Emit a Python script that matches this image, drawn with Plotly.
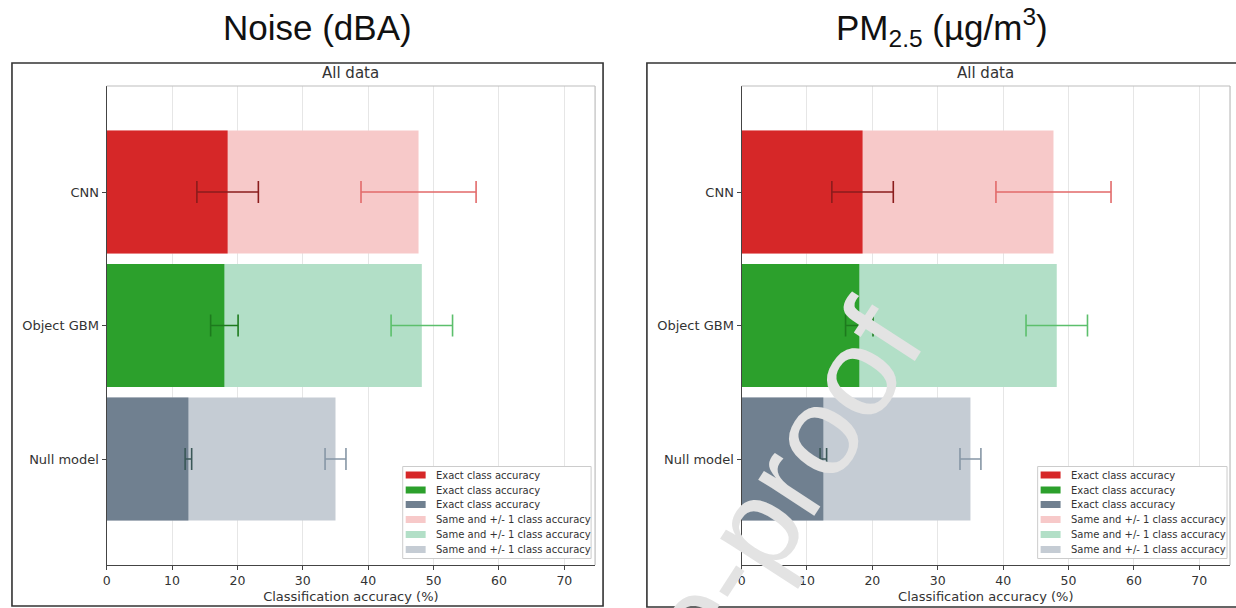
import plotly.graph_objects as go

# ---- data ----
models = ["CNN", "Object GBM", "Null model"]
exact_acc = [18.5, 18.0, 12.5]
exact_err = [4.7, 2.1, 0.5]
same_acc = [47.7, 48.2, 35.0]
same_err = [8.8, 4.7, 1.6]

panel_titles = ["Noise (dBA)", "PM<sub>2.5</sub> (µg/m<sup>3</sup>)"]
subplot_title = "All data"
x_title = "Classification accuracy (%)"
x_ticks = [0, 10, 20, 30, 40, 50, 60, 70]
exact_label = "Exact class accuracy"
same_label = "Same and +/- 1 class accuracy"
watermark = "Journal Pre-proof"

exact_colors = ["#d62728", "#2ca02c", "#708090"]
same_colors = ["#f7c9c9", "#b2dfc7", "#c5ccd4"]
exact_err_colors = ["#8b1c1c", "#1d7a1d", "#3b5858"]
same_err_colors = ["#e26a6a", "#5cbf6c", "#8797a6"]

W, H = 1236, 608
def px(x):
    return x / W
def py(y):
    return 1 - y / H

panels = [
    dict(x0=103, x1=593, frame=(8, 63, 601, 606), title_x=315, legend=(400, 589)),
    dict(x0=740, x1=1230, frame=(645, 63, 1245, 607), title_x=941, legend=(1037, 1227)),
]
plot_top, plot_bot = 86, 565
legend_top, legend_bot = 466.5, 558.5
legend_rows = [475, 490, 504.5, 519.5, 534.5, 549.5]

fig = go.Figure()
shapes = []
annotations = []
font_main = "DejaVu Sans"

for p, pan in enumerate(panels):
    sfx = "" if p == 0 else str(p + 1)
    xa, ya = "x" + sfx, "y" + sfx
    # same (+/-1) bars first (behind)
    for i, m in enumerate(models):
        fig.add_trace(go.Bar(
            x=[same_acc[i]], y=[m], orientation="h", xaxis=xa, yaxis=ya,
            marker=dict(color=same_colors[i], line=dict(width=0)),
            width=0.92, name=same_label, showlegend=False,
            error_x=dict(type="data", array=[same_err[i]], color=same_err_colors[i],
                         thickness=1.6, width=11),
        ))
    for i, m in enumerate(models):
        fig.add_trace(go.Bar(
            x=[exact_acc[i]], y=[m], orientation="h", xaxis=xa, yaxis=ya,
            marker=dict(color=exact_colors[i], line=dict(width=0)),
            width=0.92, name=exact_label, showlegend=False,
            error_x=dict(type="data", array=[exact_err[i]], color=exact_err_colors[i],
                         thickness=1.6, width=11),
        ))

    xdom = [px(pan["x0"]), px(pan["x1"])]
    ydom = [py(plot_bot), py(plot_top)]
    xaxis = dict(domain=xdom, range=[0, 74.7], tickvals=x_ticks, showgrid=True,
                 gridcolor="#e6e6e6", gridwidth=1, zeroline=False, showline=True,
                 linecolor="#444", linewidth=1.2, ticks="outside", ticklen=4,
                 tickcolor="#444", tickfont=dict(family=font_main, size=12.5, color="#333"),
                 title=dict(text=x_title, font=dict(family=font_main, size=13, color="#333"),
                            standoff=4),
                 anchor=ya, fixedrange=True)
    yaxis = dict(domain=ydom, type="category", categoryorder="array",
                 categoryarray=models[::-1], range=[-0.794, 2.794], showgrid=False,
                 zeroline=False, showline=True, linecolor="#444", linewidth=1.2,
                 ticks="outside", ticklen=4, tickcolor="#444",
                 tickfont=dict(family=font_main, size=13, color="#333"),
                 anchor=xa, fixedrange=True)
    fig.update_layout(**{"xaxis" + sfx: xaxis, "yaxis" + sfx: yaxis})

    # light top/right spines
    shapes.append(dict(type="line", xref="paper", yref="paper",
                       x0=px(pan["x0"]), x1=px(pan["x1"]), y0=py(plot_top), y1=py(plot_top),
                       line=dict(color="#bdbdbd", width=1.2)))
    shapes.append(dict(type="line", xref="paper", yref="paper",
                       x0=px(pan["x1"]), x1=px(pan["x1"]), y0=py(plot_top), y1=py(plot_bot),
                       line=dict(color="#bdbdbd", width=1.2)))
    # outer frame
    fx0, fy0, fx1, fy1 = pan["frame"]
    shapes.append(dict(type="rect", xref="paper", yref="paper",
                       x0=px(fx0), x1=px(fx1), y0=py(fy1), y1=py(fy0),
                       line=dict(color="#333", width=1.6)))
    # titles
    annotations.append(dict(text=panel_titles[p], xref="paper", yref="paper",
                            x=px(pan["title_x"]), y=py(28), xanchor="center", yanchor="middle",
                            showarrow=False,
                            font=dict(family="Liberation Sans", size=35, color="#111")))
    annotations.append(dict(text=subplot_title, xref="paper", yref="paper",
                            x=px((pan["x0"] + pan["x1"]) / 2), y=py(73),
                            xanchor="center", yanchor="middle", showarrow=False,
                            font=dict(family=font_main, size=15, color="#333")))
    # legend (drawn manually for compact matplotlib-like spacing)
    lx0, lx1 = pan["legend"]
    shapes.append(dict(type="rect", xref="paper", yref="paper", layer="above",
                       x0=px(lx0), x1=px(lx1), y0=py(legend_bot), y1=py(legend_top),
                       fillcolor="white", line=dict(color="#cccccc", width=1)))
    labels = [exact_label] * 3 + [same_label] * 3
    colors = exact_colors + same_colors
    for k, (lab, col) in enumerate(zip(labels, colors)):
        yc = legend_rows[k]
        shapes.append(dict(type="rect", xref="paper", yref="paper", layer="above",
                           x0=px(lx0 + 3), x1=px(lx0 + 23), y0=py(yc + 3.5), y1=py(yc - 3.5),
                           fillcolor=col, line=dict(width=0)))
        annotations.append(dict(text=lab, xref="paper", yref="paper",
                                x=px(lx0 + 31), y=py(yc), xanchor="left", yanchor="middle",
                                showarrow=False,
                                font=dict(family=font_main, size=10, color="#333")))

# watermark
annotations.append(dict(text=watermark, xref="paper", yref="paper",
                        x=px(624), y=py(725), xanchor="center", yanchor="middle",
                        showarrow=False, textangle=-57,
                        font=dict(family="Liberation Sans", size=126, color="#e3e3e3")))

fig.update_layout(
    width=W, height=H, margin=dict(l=0, r=0, t=0, b=0),
    paper_bgcolor="white", plot_bgcolor="white",
    barmode="overlay", showlegend=False,
    shapes=shapes, annotations=annotations,
)

fig.write_html("out.html")
